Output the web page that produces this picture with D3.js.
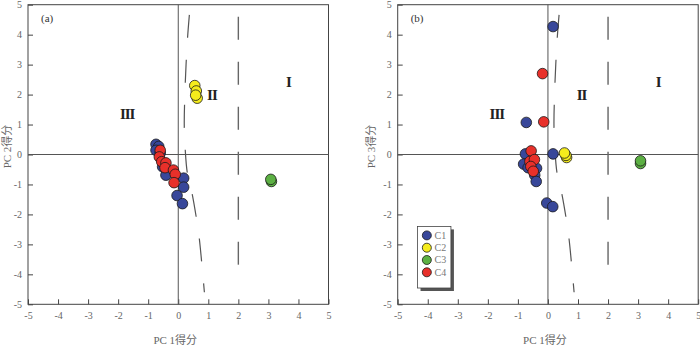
<!DOCTYPE html>
<html>
<head>
<meta charset="utf-8">
<script src="https://cdn.jsdelivr.net/npm/d3@7"></script>
<style>
  body { margin: 0; background: #fff; }
  svg text { font-family: "Liberation Serif", "Times New Roman", "Noto Sans CJK SC", serif; }
</style>
</head>
<body>
<div id="chart"></div>
<script>
// ---- data ----
var ticks = [-5, -4, -3, -2, -1, 0, 1, 2, 3, 4, 5];
var groups = ["C1", "C2", "C3", "C4"];
var colors = ["#38479a", "#f5ec1c", "#5cb043", "#e8302a"];

// panel (a): PC1 vs PC2
var a_C1 = [[-0.74, 0.34], [-0.65, 0.27], [-0.74, 0.14], [-0.6, 0.05], [-0.52, -0.41], [-0.41, -0.69],
            [0.18, -0.79], [0.18, -1.09], [-0.04, -1.37], [0.14, -1.64]];
var a_C2 = [[0.55, 2.3], [0.6, 2.12], [0.63, 1.88], [0.58, 1.98]];
var a_C3 = [[3.1, -0.9], [3.08, -0.83]];
var a_C4 = [[-0.6, 0.14], [-0.63, -0.08], [-0.55, -0.24], [-0.41, -0.28], [-0.44, -0.44],
            [-0.16, -0.52], [-0.1, -0.66], [-0.14, -0.94]];

// panel (b): PC1 vs PC3
var b_C1 = [[0.17, 4.27], [-0.72, 1.07], [0.17, 0.02], [-0.75, 0.02], [-0.81, -0.32], [-0.66, -0.44],
            [-0.38, -0.46], [-0.44, -0.69], [-0.39, -0.9], [-0.04, -1.62], [0.16, -1.74]];
var b_C2 = [[0.62, -0.1], [0.6, -0.03], [0.55, 0.05]];
var b_C3 = [[3.08, -0.3], [3.08, -0.21]];
var b_C4 = [[-0.18, 2.7], [-0.14, 1.09], [-0.56, 0.12], [-0.6, -0.23], [-0.45, -0.17], [-0.57, -0.4], [-0.49, -0.56]];

// boundary lines between zones
var curveLine = [[0.37, 4.66], [0.31, 3.9], [0.26, 3.0], [0.22, 2.0], [0.2, 1.0], [0.23, 0.2],
                 [0.3, -0.6], [0.46, -1.3], [0.6, -2.1], [0.7, -2.8], [0.78, -3.6], [0.87, -4.6]];
var straightLine = [[2, 4.6], [2, -3.7]];

var zones = [["I", 3.67, 2.43], ["II", 1.12, 2.0], ["III", -1.7, 1.35]];

var panels = [
  {left: 28, ylabX: 7, tag: "(a)", ylab: "PC 2得分", sets: [a_C1, a_C2, a_C3, a_C4], legend: false},
  {left: 397.7, ylabX: 371, tag: "(b)", ylab: "PC 3得分", sets: [b_C1, b_C2, b_C3, b_C4], legend: true}
];

var W = 700, H = 346;
var pw = 300.5, ph = 299.6, plotTop = 4.7;

var svg = d3.select("#chart").append("svg")
    .attr("width", W)
    .attr("height", H);

panels.forEach(function(p) {
  var x = d3.scaleLinear().domain([-5, 5]).range([0, pw]);
  var y = d3.scaleLinear().domain([-5, 5]).range([ph, 0]);

  var g = svg.append("g")
      .attr("transform", "translate(" + p.left + "," + plotTop + ")");

  // frame
  g.append("rect")
      .attr("width", pw).attr("height", ph)
      .attr("fill", "none").attr("stroke", "#444").attr("stroke-width", 1);

  // axes, ticks pointing inward, plain hyphen minus
  var fmt = function(d) { return String(d); };
  var xa = g.append("g")
      .attr("transform", "translate(0," + ph + ")")
      .call(d3.axisBottom(x).tickValues(ticks).tickFormat(fmt).tickSizeInner(-5).tickSizeOuter(0).tickPadding(8));
  var ya = g.append("g")
      .call(d3.axisLeft(y).tickValues(ticks).tickFormat(fmt).tickSizeInner(-5).tickSizeOuter(0).tickPadding(6));
  [xa, ya].forEach(function(ax) {
    ax.select(".domain").remove();
    ax.selectAll("line").attr("stroke", "#444");
    ax.selectAll("text").attr("fill", "#666").attr("font-size", 10)
      .style("font-family", "'Liberation Serif', serif");
  });

  // zero lines
  g.append("line").attr("x1", x(0)).attr("x2", x(0)).attr("y1", 0).attr("y2", ph)
      .attr("stroke", "#555").attr("stroke-width", 1);
  g.append("line").attr("x1", 0).attr("x2", pw).attr("y1", y(0)).attr("y2", y(0))
      .attr("stroke", "#555").attr("stroke-width", 1);

  // dashed boundaries
  var line = d3.line().x(function(d) { return x(d[0]); }).y(function(d) { return y(d[1]); });
  g.append("path").datum(curveLine)
      .attr("d", line.curve(d3.curveCatmullRom))
      .attr("fill", "none").attr("stroke", "#555").attr("stroke-width", 1.2)
      .attr("stroke-dasharray", "23,22");
  g.append("path").datum(straightLine)
      .attr("d", d3.line().x(function(d) { return x(d[0]); }).y(function(d) { return y(d[1]); }))
      .attr("fill", "none").attr("stroke", "#666").attr("stroke-width", 1.4)
      .attr("stroke-dasharray", "23,22");

  // zone labels
  g.selectAll(".zone").data(zones).enter().append("text")
      .attr("class", "zone")
      .attr("x", function(d) { return x(d[1]); })
      .attr("y", function(d) { return y(d[2]); })
      .attr("dy", "0.35em")
      .attr("text-anchor", "middle")
      .attr("font-size", 15).attr("font-weight", "bold").attr("fill", "#222")
      .attr("letter-spacing", -1)
      .text(function(d) { return d[0]; });

  // points, groups drawn in order
  p.sets.forEach(function(set, i) {
    g.selectAll(".pt" + i).data(set).enter().append("circle")
        .attr("class", "pt" + i)
        .attr("cx", function(d) { return x(d[0]); })
        .attr("cy", function(d) { return y(d[1]); })
        .attr("r", 5.3)
        .attr("fill", colors[i])
        .attr("stroke", "#1a1a1a").attr("stroke-width", 0.8);
  });

  // panel tag
  g.append("text").attr("x", 13).attr("y", 17)
      .attr("font-size", 11).attr("fill", "#333").text(p.tag);

  // axis titles
  svg.append("text")
      .attr("x", p.left + pw / 2 - 3).attr("y", 344)
      .attr("text-anchor", "middle").attr("font-size", 11).attr("fill", "#666")
      .text("PC 1得分");
  svg.append("text")
      .attr("transform", "translate(" + (p.ylabX + 4) + "," + (plotTop + y(0) - 8) + ") rotate(-90)")
      .attr("text-anchor", "middle").attr("font-size", 11).attr("fill", "#666")
      .text(p.ylab);

  if (p.legend) {
    var lg = g.append("g").attr("transform", "translate(" + (x(-4.34)) + "," + (y(-2.4)) + ")");
    lg.append("rect").attr("x", 3).attr("y", 3).attr("width", 33.4).attr("height", 61.6)
        .attr("fill", "#555");
    lg.append("rect").attr("width", 33.4).attr("height", 61.6)
        .attr("fill", "#fff").attr("stroke", "#444").attr("stroke-width", 0.8);
    groups.forEach(function(name, i) {
      lg.append("circle").attr("cx", 9.3).attr("cy", 9 + i * 12.3).attr("r", 4.5)
          .attr("fill", colors[i]).attr("stroke", "#1a1a1a").attr("stroke-width", 0.8);
      lg.append("text").attr("x", 17).attr("y", 9 + i * 12.3).attr("dy", "0.35em")
          .attr("font-size", 10).attr("fill", "#777").text(name);
    });
  }
});
</script>
</body>
</html>
